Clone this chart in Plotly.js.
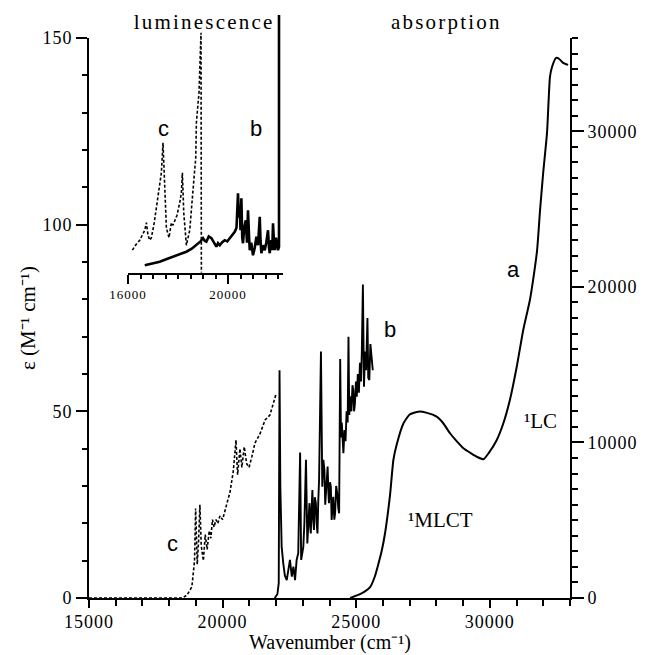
<!DOCTYPE html>
<html>
<head>
<meta charset="utf-8">
<script src="https://cdn.plot.ly/plotly-3.0.1.min.js"></script>
<style>html,body{margin:0;padding:0;background:#fff;}#chart{width:645px;height:655px;}</style>
</head>
<body>
<div id="chart"></div>
<script>
// ---- data ----
// a: absorption (right axis, M^-1 cm^-1)
const aWavenumber = [24770, 25000, 25300, 25520, 25700, 25800, 25950, 26080, 26270, 26390, 26520, 26770, 27000, 27330, 27650, 28010, 28250, 28510, 28750, 29010, 29300, 29550, 29760, 29950, 30260, 30500, 30750, 31000, 31250, 31500, 31620, 31770, 31880, 32000, 32140, 32250, 32330, 32480, 32600, 32740, 32930];
const aEps = [0, 150, 400, 700, 1400, 2000, 3000, 4180, 6700, 8870, 9900, 11230, 11800, 11980, 11900, 11660, 11250, 10590, 10100, 9630, 9300, 9050, 8920, 9300, 10160, 11200, 12730, 14800, 17230, 19160, 20450, 22380, 24950, 27400, 29900, 33500, 34150, 34720, 34650, 34400, 34270];

// b: absorption (left axis)
const bWavenumber = [21950, 22050, 22100, 22130, 22160, 22210, 22270, 22330, 22400, 22460, 22520, 22590, 22650, 22710, 22770, 22830, 22900, 22940, 23020, 23060, 23120, 23170, 23210, 23250, 23280, 23300, 23330, 23360, 23390, 23420, 23450, 23490, 23520, 23550, 23580, 23610, 23680, 23730, 23770, 23810, 23840, 23860, 23900, 23930, 23960, 23980, 24020, 24050, 24080, 24110, 24140, 24180, 24210, 24250, 24290, 24330, 24360, 24400, 24430, 24460, 24490, 24520, 24560, 24600, 24640, 24680, 24710, 24740, 24780, 24820, 24860, 24890, 24920, 24950, 24990, 25020, 25060, 25100, 25140, 25180, 25210, 25250, 25290, 25330, 25370, 25420, 25450, 25490, 25530, 25580, 25620];
const bEps = [0, 1, 4, 61, 30, 13.7, 9.3, 6, 4.8, 7, 10.2, 5.7, 8.4, 4.8, 10.2, 12, 39, 10.2, 13.7, 20, 37, 14.6, 22, 25.4, 19, 17.3, 24, 28.9, 21, 18.2, 27, 25.4, 20, 17.3, 26, 31.6, 66, 29.8, 37, 34.3, 25, 27.1, 33, 35.2, 28, 25.4, 31, 29.8, 20.9, 26, 27.1, 21, 22.7, 30, 28, 24, 22.7, 64, 43, 47, 40, 38.8, 45, 42, 50, 47, 70, 49, 54, 50, 57, 55.7, 50, 52, 58, 53.9, 60, 55, 63, 58, 66, 84, 56.6, 66, 61, 75, 59, 58.4, 68, 64.6, 61];

// c: absorption (left axis, dashed)
const cWavenumber = [15000, 18500, 18670, 18850, 18950, 18990, 19050, 19100, 19150, 19200, 19280, 19350, 19420, 19500, 19560, 19620, 19680, 19750, 19820, 19900, 20000, 20150, 20280, 20400, 20500, 20560, 20650, 20720, 20810, 20900, 20990, 21100, 21210, 21400, 21590, 21770, 21990];
const cEps = [0, 0, 0.8, 3, 10, 24, 9, 15, 25, 14, 10, 17, 13, 18, 16, 21, 19, 21, 20, 22, 21, 25, 28.5, 34, 42.3, 33, 40, 35, 40.5, 36, 35, 38, 41.5, 44, 47.7, 49, 54.4];

// inset: luminescence (arbitrary intensity)
const lumCWavenumber = [16175, 16300, 16470, 16600, 16670, 16735, 16800, 16870, 16935, 17050, 17135, 17250, 17335, 17400, 17450, 17535, 17640, 17735, 17800, 17870, 17960, 18070, 18135, 18175, 18230, 18335, 18470, 18600, 18710, 18735, 18840, 18920, 18935];
const lumCInt = [9, 11, 13, 16, 17, 20, 15, 13, 14, 20, 26, 33, 40, 52, 40, 18, 14, 20, 19, 21, 23, 28, 32, 40, 24, 11, 17, 33, 46, 60, 72, 96, 0];
const lumBWavenumber = [16670, 17000, 17270, 17500, 17800, 18100, 18335, 18550, 18735, 18900, 19000, 19070, 19135, 19230, 19335, 19430, 19535, 19600, 19670, 19770, 19870, 19970, 20070, 20170, 20270, 20340, 20400, 20440, 20470, 20500, 20535, 20570, 20600, 20650, 20710, 20760, 20800, 20840, 20870, 20930, 21000, 21070, 21135, 21200, 21270, 21300, 21335, 21400, 21470, 21530, 21600, 21640, 21670, 21700, 21735, 21770, 21800, 21840, 21870, 21920, 21960, 22000, 22040, 22040];
const lumBInt = [3, 3.8, 4.4, 5.3, 6.4, 7.4, 8.4, 9.6, 11, 12.5, 13.8, 12.8, 12.4, 14.5, 13.8, 12, 10.4, 11.8, 11, 12.2, 13, 12.5, 13.8, 15, 16.4, 18, 31.8, 22, 26.4, 17, 29.8, 14, 11.8, 18, 21, 12, 25, 15, 9, 12, 7, 10, 14.4, 11, 22.4, 13, 7.8, 11, 9, 12, 17, 10, 7.8, 11, 13, 9, 19.8, 12, 9, 14, 11.8, 9, 10.4, 103.1];

// tick labels
const xTicks = [15000, 20000, 25000, 30000];
const yLeftTicks = [0, 50, 100, 150];
const yRightTicks = [0, 10000, 20000, 30000];
const insetTicks = [16000, 20000];

// ---- layout geometry (pixels) ----
const W = 645, H = 655;
const L = 89, R = 570, T = 10, B = 598;
const pw = R - L, ph = B - T;
const px = v => (v - L) / pw;
const py = v => (B - v) / ph;

const serif = 'Liberation Serif, Times New Roman, serif';
const sans = 'Liberation Sans, Arial, sans-serif';
const tickFont = {family: serif, size: 18, color: '#000'};

const traces = [
  {x: cWavenumber, y: cEps, xaxis: 'x', yaxis: 'y', mode: 'lines', line: {color: '#000', width: 1.6, dash: '3px,2px'}, hoverinfo: 'skip'},
  {x: bWavenumber, y: bEps, xaxis: 'x', yaxis: 'y', mode: 'lines', line: {color: '#000', width: 1.9}, hoverinfo: 'skip'},
  {x: aWavenumber, y: aEps, xaxis: 'x', yaxis: 'y2', mode: 'lines', line: {color: '#000', width: 2, shape: 'spline', smoothing: 0.5}, hoverinfo: 'skip'},
  {x: lumCWavenumber, y: lumCInt, xaxis: 'x2', yaxis: 'y3', mode: 'lines', line: {color: '#000', width: 1.6, dash: '3px,2px'}, hoverinfo: 'skip'},
  {x: lumBWavenumber, y: lumBInt, xaxis: 'x2', yaxis: 'y3', mode: 'lines', line: {color: '#000', width: 2.6}, hoverinfo: 'skip'}
];

const minorCommon = {ticks: 'outside', tickcolor: '#000', tickwidth: 1.5, showgrid: false};

function ann(xref, yref, x, y, text, family, size, yanchor) {
  return {xref: xref, yref: yref, x: x, y: y, text: text, showarrow: false,
          xanchor: 'center', yanchor: yanchor || 'middle', borderpad: 0,
          font: {family: family, size: size, color: '#000'}};
}

const layout = {
  width: W, height: H,
  margin: {l: L, r: W - R, t: T, b: H - B},
  paper_bgcolor: '#fff', plot_bgcolor: '#fff',
  showlegend: false,
  xaxis: {
    domain: [0, 1], range: [15000, 33000], anchor: 'y',
    showline: true, linecolor: '#000', linewidth: 2,
    ticks: 'outside', ticklen: 8, tickwidth: 2, tickcolor: '#000',
    tickvals: xTicks, ticktext: xTicks.map(String), ticklabelstandoff: -2,
    minor: Object.assign({dtick: 1000, tick0: 15000, ticklen: 6}, minorCommon),
    showgrid: false, zeroline: false, tickfont: tickFont
  },
  yaxis: {
    domain: [0, py(38)], range: [0, 150], anchor: 'x',
    showline: true, linecolor: '#000', linewidth: 2,
    ticks: 'outside', ticklen: 11, tickwidth: 2, tickcolor: '#000',
    tickvals: yLeftTicks, ticktext: yLeftTicks.map(String),
    minor: Object.assign({dtick: 10, tick0: 0, ticklen: 5}, minorCommon),
    showgrid: false, zeroline: false, tickfont: tickFont,
    title: {text: 'ε (M⁻¹ cm⁻¹)', font: {family: serif, size: 21, color: '#000'}, standoff: 4}
  },
  yaxis2: {
    overlaying: 'y', side: 'right', range: [0, 36000], anchor: 'x',
    showline: true, linecolor: '#000', linewidth: 2,
    ticks: 'outside', ticklen: 12, tickwidth: 2, tickcolor: '#000',
    tickvals: yRightTicks, ticktext: yRightTicks.map(String),
    minor: Object.assign({dtick: 1000, tick0: 0, ticklen: 6}, minorCommon),
    showgrid: false, zeroline: false, tickfont: tickFont
  },
  xaxis2: {
    domain: [px(128), px(283)], range: [16000, 22200], anchor: 'y3',
    showline: true, linecolor: '#000', linewidth: 2,
    ticks: 'outside', ticklen: 9, tickwidth: 2, tickcolor: '#000',
    tickvals: insetTicks, ticktext: insetTicks.map(String),
    minor: Object.assign({dtick: 500, tick0: 16000, ticklen: 4}, minorCommon),
    showgrid: false, zeroline: false,
    tickfont: {family: serif, size: 13, color: '#000'}
  },
  yaxis3: {
    domain: [py(272.7), py(15)], range: [0, 103.1], anchor: 'x2',
    showline: false, showticklabels: false, ticks: '', showgrid: false, zeroline: false
  },
  annotations: [
    ann('paper', 'paper', 0.5, py(654.5), 'Wavenumber (cm⁻¹)', serif, 20, 'bottom'),
    ann('paper', 'paper', px(204), py(22), 'luminescence', serif, 21),
    ann('paper', 'paper', px(446), py(22), 'absorption', serif, 21),
    ann('x', 'y', 18140, 14.7, 'c', sans, 22),
    ann('x', 'y', 26260, 71.8, 'b', sans, 22),
    ann('x', 'y', 30880, 87.9, 'a', sans, 22),
    ann('x', 'y', 28140, 20.9, '¹MLCT', serif, 21),
    ann('x', 'y', 31880, 47.4, '¹LC', serif, 21),
    ann('x2', 'y3', 17400, 57.5, 'c', sans, 22),
    ann('x2', 'y3', 21136, 57.5, 'b', sans, 22)
  ]
};

Plotly.newPlot('chart', traces, layout, {displayModeBar: false}).then(function (gd) {
  // the reference prints tick labels and the two headings with wide letter spacing
  gd.querySelectorAll('.xtick text, .ytick text, .y2tick text, .x2tick text').forEach(function (t) {
    t.setAttribute('letter-spacing', '1px');
  });
  gd.querySelectorAll('.annotation-text').forEach(function (t) {
    const s = t.textContent;
    if (s === 'luminescence' || s === 'absorption') t.setAttribute('letter-spacing', '2.2px');
  });
});
</script>
</body>
</html>
